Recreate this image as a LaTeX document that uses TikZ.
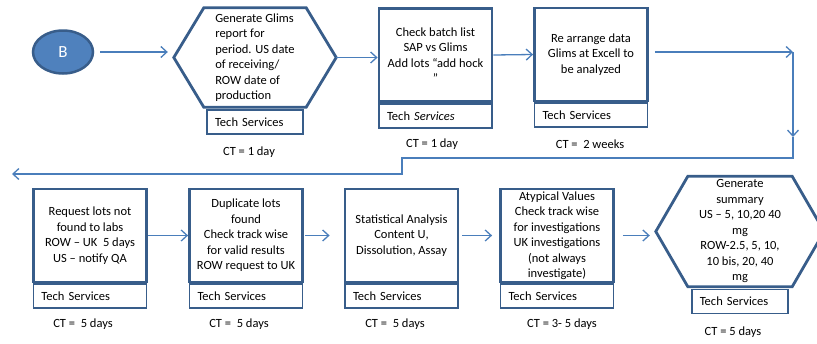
\documentclass[tikz,border=0pt]{standalone}
\usepackage{fontspec}
\setmainfont{Carlito}
\usepackage{tikz}
\usetikzlibrary{arrows.meta, positioning, shapes.geometric}
\definecolor{boxblue}{HTML}{385D8A}
\definecolor{flowblue}{HTML}{4A7EBB}
\definecolor{startfill}{HTML}{4F81BD}
\tikzset{
  stepbox/.style={draw=boxblue, line width=2.8pt, rectangle, minimum width=113pt, minimum height=93pt, align=center, inner sep=2pt},
  techbox/.style={draw=boxblue, line width=1.7pt, rectangle, minimum height=24pt, inner xsep=8pt, text width=#1, align=left},
  techbox/.default=97pt,
  hexbody/.style={rectangle, inner sep=0pt},
  hexline/.style={draw=boxblue, line width=2.8pt, line join=miter},
  flow/.style={draw=flowblue, line width=1.3pt, -{Straight Barb[length=6pt,width=11pt]}}
}

\begin{document}
\begin{tikzpicture}[x=1pt, y=-1pt, font=\fontsize{12.5}{15.5}\selectfont]
\useasboundingbox (0,0) rectangle (817,343);
\node (Start) [ellipse, draw=boxblue, fill=startfill, line width=2.5pt, minimum width=60pt, minimum height=43pt, text=white, font=\fontsize{17}{20}\selectfont] at (63,52) {B};
\node (GenReport) [hexbody, minimum width=162pt, minimum height=99pt, align=left] at (255,57.5) {Generate Glims\\report for\\period. US date\\of receiving/\\ROW date of\\production};
\draw[hexline] (GenReport.west) -- ([xshift=30pt]GenReport.north west) -- ([xshift=-30pt]GenReport.north east) -- (GenReport.east) -- ([xshift=-30pt]GenReport.south east) -- ([xshift=30pt]GenReport.south west) -- cycle;
\node (GenReportTS) [techbox=80pt, below=2pt of GenReport] {Tech Services};
\node (CheckBatch) [stepbox] at (435.5,55) {Check batch list\\SAP vs Glims\\Add lots ``add hock\\''};
\node (CheckBatchTS) [techbox, below=0pt of CheckBatch] {Tech \textit{Services}};
\node (Arrange) [stepbox] at (591,54.5) {Re arrange data\\Glims at Excell to\\be analyzed};
\node (ArrangeTS) [techbox, below=0pt of Arrange] {Tech Services};
\node (Request) [stepbox] at (90,235.5) {Request lots not\\found to labs\\ROW -- UK\ \ 5 days\\US -- notify QA};
\node (RequestTS) [techbox, below=0pt of Request] {Tech Services};
\node (Duplicate) [stepbox] at (246,235.5) {Duplicate lots\\found\\Check track wise\\for valid results\\ROW request to UK};
\node (DuplicateTS) [techbox, below=0pt of Duplicate] {Tech Services};
\node (Stats) [stepbox] at (401.5,235.5) {Statistical Analysis\\Content U,\\Dissolution, Assay};
\node (StatsTS) [techbox, below=0pt of Stats] {Tech Services};
\node (Atypical) [stepbox] at (557,235.5) {Atypical Values\\Check track wise\\for investigations\\UK investigations\\(not always\\investigate)};
\node (AtypicalTS) [techbox, below=0pt of Atypical] {Tech Services};
\node (Summary) [hexbody, minimum width=168pt, minimum height=110pt, align=center] at (740,231.5) {Generate\\summary\\US -- 5, 10,20 40\\mg\\ROW-2.5, 5, 10,\\10 bis, 20, 40\\mg};
\draw[hexline] (Summary.west) -- ([xshift=32pt]Summary.north west) -- ([xshift=-32pt]Summary.north east) -- (Summary.east) -- ([xshift=-32pt]Summary.south east) -- ([xshift=32pt]Summary.south west) -- cycle;
\node (SummaryTS) [techbox=80.5pt, below=2pt of Summary] {Tech Services};
\node (GenReportCT) at (249,152) {CT = 1 day};
\node (CheckBatchCT) at (432,144) {CT = 1 day};
\node (ArrangeCT) at (590,144) {CT =~ 2 weeks};
\node (RequestCT) at (83,324) {CT =~ 5 days};
\node (DuplicateCT) at (239,324) {CT =~ 5 days};
\node (StatsCT) at (395,324) {CT =~ 5 days};
\node (AtypicalCT) at (562,324) {CT = 3- 5 days};
\node (SummaryCT) at (733,332) {CT = 5 days};
\coordinate (TurnA) at (793,52);
\coordinate (TurnB) at (793,137);
\coordinate (TurnC) at (402,158);
\coordinate (Back) at (12,174);
\draw[flow, shorten <=6pt, shorten >=6pt] (Start.east) -- (Start.east -| GenReport.west);
\draw[flow] (GenReport.east) -- (GenReport.east -| CheckBatch.west);
\draw[flow] (CheckBatch.east) -- (Arrange.west);
\draw[flow, shorten <=6pt] (Arrange.east |- TurnA) -- (TurnA);
\draw[flow] (TurnA) -- (TurnB);
\draw[flow] (TurnB) |- (TurnC) |- (Back);
\draw[flow] (Request.east) -- (Duplicate.west);
\draw[flow, shorten <=1pt, shorten >=14pt] (Duplicate.east) -- (Stats.west);
\draw[flow, shorten <=3pt, shorten >=7pt] (Stats.east) -- (Atypical.west);
\draw[flow, shorten <=8pt, shorten >=6pt] (Atypical.east) -- (Atypical.east -| Summary.west);
\end{tikzpicture}
\end{document}
